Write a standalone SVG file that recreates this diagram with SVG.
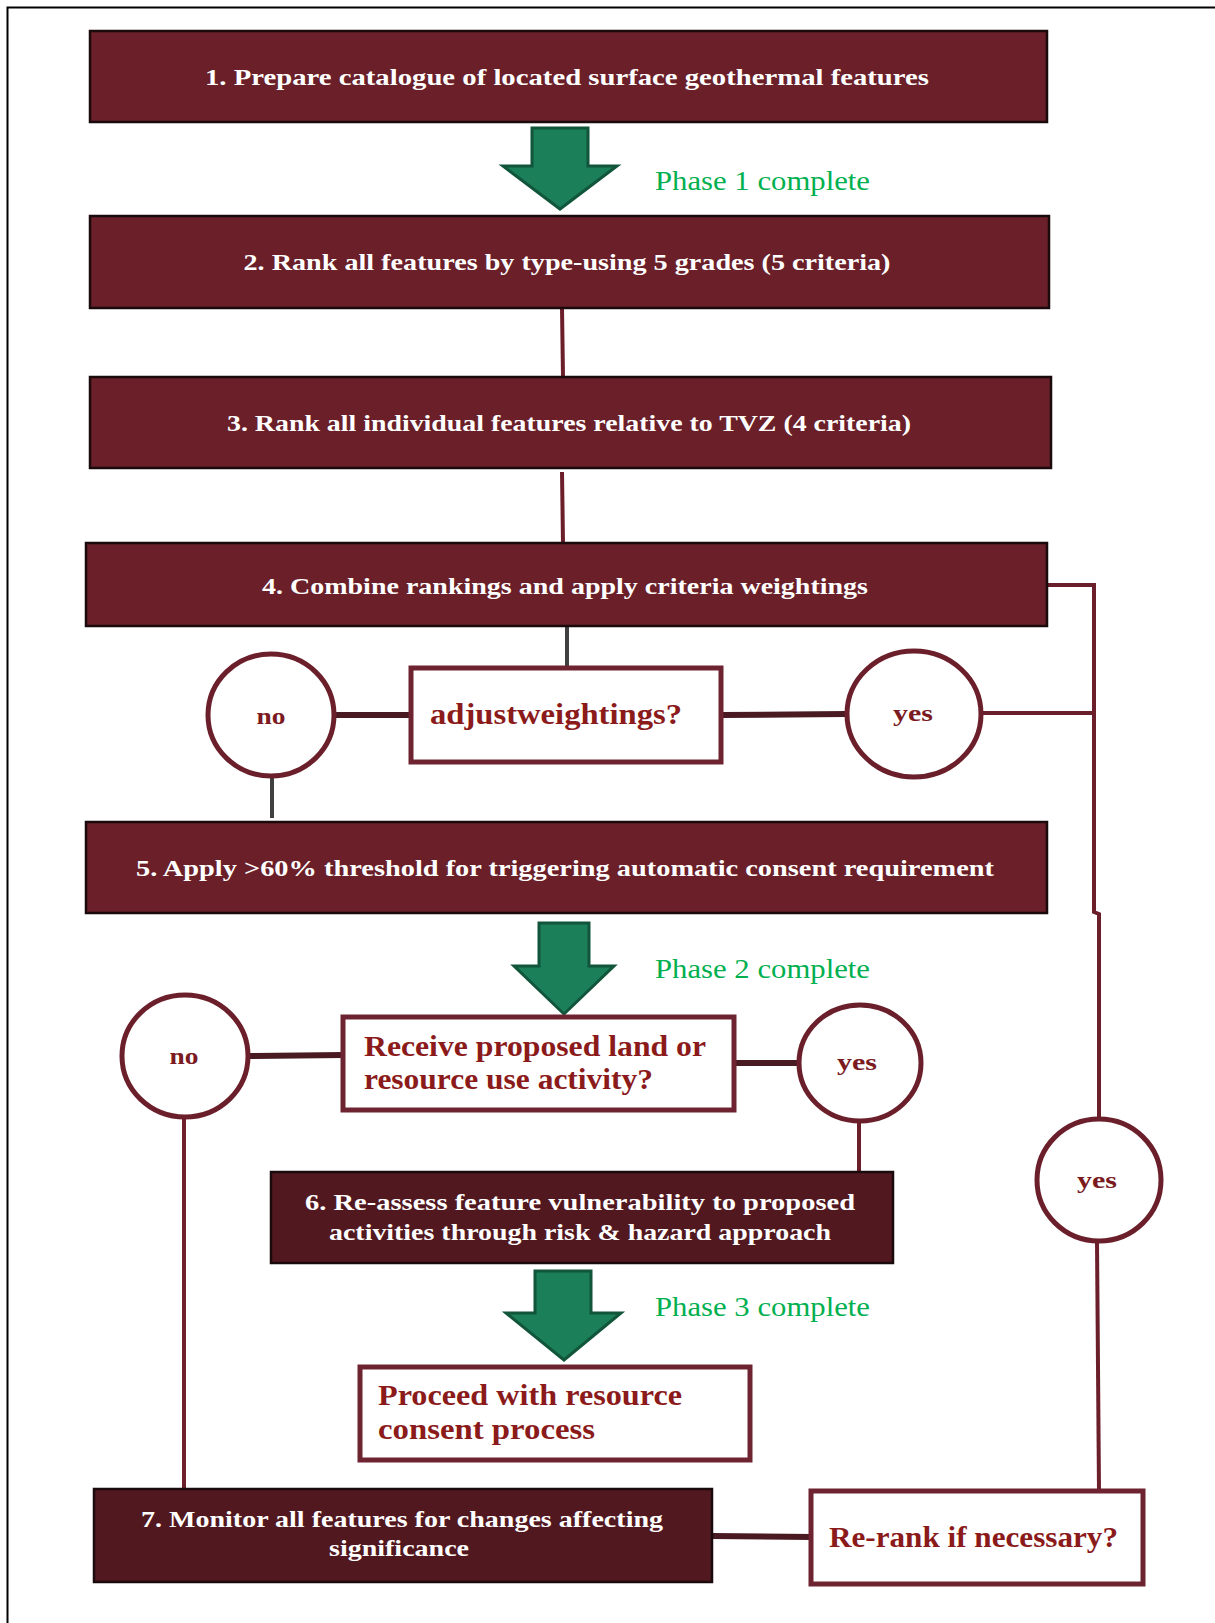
<svg xmlns="http://www.w3.org/2000/svg" width="1215" height="1623" viewBox="0 0 1215 1623">
<style>
.box{fill:#6a1f29;stroke:#1a0a0c;stroke-width:2.5}
.dbox{fill:#521820;stroke:#1a0a0c;stroke-width:2.5}
.q{fill:#ffffff;stroke:#6e2430;stroke-width:5}
.circ{fill:#ffffff;stroke:#6b1f2a;stroke-width:5}
.bt{font-family:"Liberation Serif",serif;font-weight:bold;font-size:23px;fill:#ffffff;text-anchor:middle}
.qt{font-family:"Liberation Serif",serif;font-weight:bold;font-size:29px;fill:#8b1a1a}
.ct{font-family:"Liberation Serif",serif;font-weight:bold;font-size:23px;fill:#7b1a1f;text-anchor:middle}
.ph{font-family:"Liberation Serif",serif;font-size:28px;fill:#00b050}
.arr{fill:#1b7f59;stroke:#11553b;stroke-width:3;stroke-linejoin:miter}
.lm{fill:none;stroke:#6b1f2a;stroke-width:4}
.lt{fill:none;stroke:#4a1a22;stroke-width:6}
.lg{fill:none;stroke:#404040;stroke-width:4}
</style>
<rect x="0" y="0" width="1215" height="1623" fill="#ffffff"/>
<path d="M7.5 1623 V7.5 H1215" fill="none" stroke="#000000" stroke-width="2"/>

<g id="connectors">
<line class="lm" x1="562" y1="308" x2="563" y2="377"/>
<line class="lm" x1="562" y1="472" x2="563" y2="543"/>
<line class="lg" x1="567" y1="626" x2="567" y2="667"/>
<line class="lt" x1="335" y1="715" x2="411" y2="715"/>
<line class="lt" x1="722" y1="715" x2="846" y2="714"/>
<line class="lg" x1="272" y1="777" x2="272" y2="818"/>
<polyline class="lm" points="1047,585 1094,585 1094,912 1099,914 1099,1118"/>
<line class="lm" x1="982" y1="713" x2="1094" y2="713"/>
<line class="lt" x1="248" y1="1056" x2="343" y2="1055"/>
<line class="lt" x1="734" y1="1063" x2="798" y2="1063"/>
<line class="lm" x1="859" y1="1122" x2="859" y2="1175"/>
<line class="lm" x1="184" y1="1118" x2="184" y2="1489"/>
<line class="lm" x1="1097" y1="1242" x2="1099" y2="1490"/>
<line class="lt" x1="712" y1="1536" x2="812" y2="1537"/>
</g>

<g id="arrow1"><polygon class="arr" points="532,128 588,128 588,166 617,166 560,209 503,166 532,166"/></g>
<g id="arrow2"><polygon class="arr" points="539,923 589,923 589,966 614,966 564,1014 514,966 539,966"/></g>
<g id="arrow3"><polygon class="arr" points="535,1271 591,1271 591,1313 621,1313 564,1360 506,1313 535,1313"/></g>

<g id="phase1"><text class="ph" x="655" y="190" textLength="215" lengthAdjust="spacingAndGlyphs">Phase 1 complete</text></g>
<g id="phase2"><text class="ph" x="655" y="978" textLength="215" lengthAdjust="spacingAndGlyphs">Phase 2 complete</text></g>
<g id="phase3"><text class="ph" x="655" y="1316" textLength="215" lengthAdjust="spacingAndGlyphs">Phase 3 complete</text></g>

<g id="node1"><rect class="box" x="90" y="31" width="957" height="91"/>
<text class="bt" x="567" y="85" textLength="724" lengthAdjust="spacingAndGlyphs">1. Prepare  catalogue of located surface geothermal features</text></g>
<g id="node2"><rect class="box" x="90" y="216" width="959" height="92"/>
<text class="bt" x="567" y="270" textLength="647" lengthAdjust="spacingAndGlyphs">2. Rank all features by type-using 5 grades (5 criteria)</text></g>
<g id="node3"><rect class="box" x="90" y="377" width="961" height="91"/>
<text class="bt" x="569" y="431" textLength="684" lengthAdjust="spacingAndGlyphs">3. Rank all individual features relative to TVZ  (4 criteria)</text></g>
<g id="node4"><rect class="box" x="86" y="543" width="961" height="83"/>
<text class="bt" x="565" y="594" textLength="606" lengthAdjust="spacingAndGlyphs">4. Combine rankings and apply criteria weightings</text></g>

<g id="adjust"><rect class="q" x="411" y="668" width="310" height="94"/>
<text class="qt" x="430" y="724" textLength="252" lengthAdjust="spacingAndGlyphs">adjustweightings?</text></g>
<g id="no1"><ellipse class="circ" cx="271" cy="715" rx="63" ry="61"/>
<text class="ct" x="271" y="724" textLength="29" lengthAdjust="spacingAndGlyphs">no</text></g>
<g id="yes1"><ellipse class="circ" cx="914" cy="714" rx="67" ry="63"/>
<text class="ct" x="913" y="721" textLength="40" lengthAdjust="spacingAndGlyphs">yes</text></g>

<g id="node5"><rect class="box" x="86" y="822" width="961" height="91"/>
<text class="bt" x="565" y="876" textLength="858" lengthAdjust="spacingAndGlyphs">5. Apply &gt;60% threshold for triggering automatic consent requirement</text></g>

<g id="receive"><rect class="q" x="343" y="1017" width="391" height="93"/>
<text class="qt" x="364" y="1056" textLength="342" lengthAdjust="spacingAndGlyphs">Receive proposed land or</text>
<text class="qt" x="364" y="1089" textLength="289" lengthAdjust="spacingAndGlyphs">resource use activity?</text></g>
<g id="no2"><ellipse class="circ" cx="185" cy="1056" rx="63" ry="61"/>
<text class="ct" x="184" y="1064" textLength="29" lengthAdjust="spacingAndGlyphs">no</text></g>
<g id="yes2"><ellipse class="circ" cx="860" cy="1063" rx="61" ry="58"/>
<text class="ct" x="857" y="1070" textLength="40" lengthAdjust="spacingAndGlyphs">yes</text></g>

<g id="node6"><rect class="dbox" x="271" y="1172" width="622" height="91"/>
<text class="bt" x="580" y="1210" textLength="550" lengthAdjust="spacingAndGlyphs">6. Re-assess feature vulnerability to proposed</text>
<text class="bt" x="580" y="1240" textLength="502" lengthAdjust="spacingAndGlyphs">activities through risk &amp; hazard approach</text></g>

<g id="yes3"><ellipse class="circ" cx="1099" cy="1180" rx="62" ry="61"/>
<text class="ct" x="1097" y="1188" textLength="40" lengthAdjust="spacingAndGlyphs">yes</text></g>

<g id="proceed"><rect class="q" x="360" y="1367" width="390" height="93"/>
<text class="qt" x="378" y="1405" textLength="304" lengthAdjust="spacingAndGlyphs">Proceed with resource</text>
<text class="qt" x="378" y="1439" textLength="217" lengthAdjust="spacingAndGlyphs">consent process</text></g>

<g id="node7"><rect class="dbox" x="94" y="1489" width="618" height="93"/>
<text class="bt" x="402" y="1527" textLength="522" lengthAdjust="spacingAndGlyphs">7. Monitor  all features for changes affecting</text>
<text class="bt" x="399" y="1556" textLength="140" lengthAdjust="spacingAndGlyphs">significance</text></g>

<g id="rerank"><rect class="q" x="811" y="1491" width="332" height="93"/>
<text class="qt" x="829" y="1547" textLength="289" lengthAdjust="spacingAndGlyphs">Re-rank if necessary?</text></g>
</svg>
